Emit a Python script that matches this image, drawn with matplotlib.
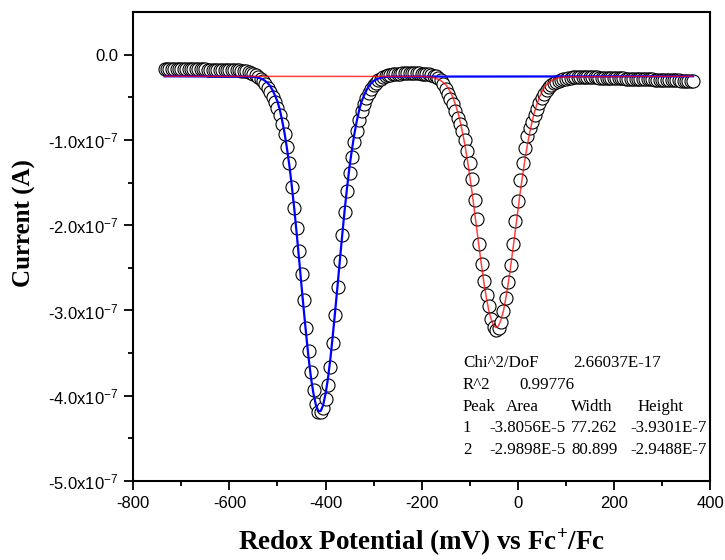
import matplotlib
matplotlib.use('Agg')
import matplotlib.pyplot as plt
from matplotlib.ticker import MultipleLocator, FixedLocator, FuncFormatter

plt.rcParams['font.family'] = 'Liberation Sans'
plt.rcParams['mathtext.fontset'] = 'custom'
plt.rcParams['mathtext.rm'] = 'Liberation Sans'
plt.rcParams['mathtext.it'] = 'Liberation Sans:italic'
plt.rcParams['mathtext.bf'] = 'Liberation Serif:bold'

# measured data, potential in mV, current in units of 1e-7 A
potential = [-735, -730, -725, -720, -715, -710, -705, -700, -695, -690,
             -685, -680, -675, -670, -665, -660, -655, -650, -645, -640,
             -635, -630, -625, -620, -615, -610, -605, -600, -595, -590,
             -585, -580, -575, -570, -565, -560, -555, -550, -545, -540,
             -535, -530, -525, -520, -515, -510, -505, -500, -495, -490,
             -485, -480, -475, -470, -465, -460, -455, -450, -445, -440,
             -435, -430, -425, -420, -415, -410, -405, -400, -395, -390,
             -385, -380, -375, -370, -365, -360, -355, -350, -345, -340,
             -335, -330, -325, -320, -315, -310, -305, -300, -295, -290,
             -285, -280, -275, -270, -265, -260, -255, -250, -245, -240,
             -235, -230, -225, -220, -215, -210, -205, -200, -195, -190,
             -185, -180, -175, -170, -165, -160, -155, -150, -145, -140,
             -135, -130, -125, -120, -115, -110, -105, -100, -95, -90,
             -85, -80, -75, -70, -65, -60, -55, -50, -45, -40,
             -35, -30, -25, -20, -15, -10, -5, 0, 5, 10,
             15, 20, 25, 30, 35, 40, 45, 50, 55, 60,
             65, 70, 75, 80, 85, 90, 95, 100, 105, 110,
             115, 120, 125, 130, 135, 140, 145, 150, 155, 160,
             165, 170, 175, 180, 185, 190, 195, 200, 205, 210,
             215, 220, 225, 230, 235, 240, 245, 250, 255, 260,
             265, 270, 275, 280, 285, 290, 295, 300, 305, 310,
             315, 320, 325, 330, 335, 340, 345, 350, 355, 360,
             365]
current = [-0.170, -0.170, -0.170, -0.170, -0.170, -0.170, -0.170, -0.170, -0.170, -0.170,
           -0.170, -0.170, -0.171, -0.171, -0.172, -0.172, -0.173, -0.174, -0.175, -0.175,
           -0.176, -0.177, -0.177, -0.178, -0.178, -0.179, -0.179, -0.180, -0.181, -0.182,
           -0.183, -0.185, -0.188, -0.192, -0.197, -0.203, -0.212, -0.224, -0.240, -0.260,
           -0.285, -0.315, -0.350, -0.390, -0.440, -0.500, -0.560, -0.630, -0.710, -0.810,
           -0.930, -1.080, -1.270, -1.550, -1.800, -2.030, -2.300, -2.570, -2.880, -3.200,
           -3.480, -3.720, -3.930, -4.100, -4.190, -4.190, -4.140, -4.040, -3.870, -3.660,
           -3.380, -3.050, -2.720, -2.420, -2.120, -1.850, -1.600, -1.390, -1.200, -1.030,
           -0.890, -0.770, -0.660, -0.580, -0.510, -0.450, -0.400, -0.360, -0.330, -0.300,
           -0.280, -0.265, -0.252, -0.243, -0.236, -0.231, -0.227, -0.224, -0.222, -0.220,
           -0.219, -0.218, -0.218, -0.218, -0.218, -0.219, -0.220, -0.222, -0.225, -0.228,
           -0.232, -0.237, -0.245, -0.255, -0.270, -0.300, -0.340, -0.400, -0.460, -0.520,
           -0.580, -0.660, -0.740, -0.810, -0.900, -1.000, -1.130, -1.270, -1.460, -1.700,
           -1.930, -2.220, -2.450, -2.660, -2.820, -2.950, -3.100, -3.190, -3.230, -3.200,
           -3.130, -3.010, -2.850, -2.670, -2.470, -2.220, -1.950, -1.720, -1.470, -1.270,
           -1.100, -0.960, -0.860, -0.790, -0.710, -0.640, -0.570, -0.510, -0.460, -0.420,
           -0.385, -0.355, -0.335, -0.318, -0.305, -0.295, -0.287, -0.280, -0.275, -0.271,
           -0.268, -0.266, -0.265, -0.265, -0.265, -0.265, -0.266, -0.266, -0.267, -0.268,
           -0.268, -0.269, -0.270, -0.271, -0.272, -0.273, -0.274, -0.275, -0.276, -0.277,
           -0.278, -0.279, -0.280, -0.281, -0.282, -0.283, -0.284, -0.285, -0.286, -0.287,
           -0.288, -0.289, -0.290, -0.291, -0.292, -0.293, -0.294, -0.295, -0.296, -0.297,
           -0.298, -0.300, -0.301, -0.302, -0.303, -0.304, -0.305, -0.306, -0.307, -0.308,
           -0.310]

# fitted peak 1 (blue)
fit1_x = [-735,
          -555, -550, -545, -540, -535, -530, -525, -520, -515, -510,
          -505, -500, -495, -490, -485, -480, -475, -470, -465, -460,
          -455, -450, -445, -440, -435, -430, -425, -420, -415, -410,
          -405, -400, -395, -390, -385, -380, -375, -370, -365, -360,
          -355, -350, -345, -340, -335, -330, -325, -320, -315, -310,
          -305, -300, -295, -290, -285, -280, -275, -270,
          365]
fit1_y = [-0.254,
          -0.258, -0.261, -0.265, -0.271, -0.280, -0.292, -0.310, -0.335, -0.370, -0.420,
          -0.480, -0.550, -0.650, -0.780, -0.930, -1.110, -1.310, -1.550, -1.810, -2.100,
          -2.400, -2.710, -3.010, -3.300, -3.570, -3.800, -3.980, -4.110, -4.180, -4.180,
          -4.110, -3.980, -3.800, -3.570, -3.300, -3.010, -2.710, -2.400, -2.100, -1.810,
          -1.550, -1.310, -1.110, -0.930, -0.780, -0.650, -0.550, -0.480, -0.420, -0.370,
          -0.335, -0.310, -0.292, -0.280, -0.271, -0.265, -0.261, -0.258,
          -0.254]

# fitted peak 2 (red)
fit2_x = [-735, -195, -185, -175,
          -165, -160, -155, -150, -145, -140, -135, -130, -125, -120,
          -115, -110, -105, -100, -95, -90, -85, -80, -75, -70,
          -65, -60, -55, -50, -45, -40, -35, -30, -25, -20,
          -15, -10, -5, 0, 5, 10, 15, 20, 25, 30,
          35, 40, 45, 50, 55, 60, 65, 70, 75,
          85, 95, 365]
fit2_y = [-0.254, -0.256, -0.260, -0.270,
          -0.290, -0.305, -0.330, -0.350, -0.390, -0.440, -0.500, -0.580, -0.670, -0.780,
          -0.910, -1.060, -1.230, -1.420, -1.620, -1.840, -2.060, -2.280, -2.490, -2.690,
          -2.860, -3.010, -3.110, -3.180, -3.200, -3.180, -3.110, -3.010, -2.860, -2.690,
          -2.490, -2.280, -2.060, -1.840, -1.620, -1.420, -1.230, -1.060, -0.910, -0.780,
          -0.670, -0.580, -0.500, -0.440, -0.390, -0.350, -0.330, -0.305, -0.290,
          -0.270, -0.260, -0.254]

fit_rows = [
    ('Chi^2/DoF', 463, 363), ('2.66037E-17', 573, 363),
    ('R^2', 463, 385), ('0.99776', 519, 385),
    ('Peak', 463, 407), ('Area', 506, 407), ('Width', 571, 407), ('Height', 638, 407),
    ('1', 463, 428), ('-3.8056E-5', 489, 428), ('77.262', 571, 428), ('-3.9301E-7', 630, 428),
    ('2', 463, 450), ('-2.9898E-5', 489, 450), ('80.899', 571, 450), ('-2.9488E-7', 630, 450),
]

W, H = 725, 560
fig = plt.figure(figsize=(W / 100, H / 100), dpi=100)
ax = fig.add_axes([133.3 / W, 1 - 481 / H, (710 - 133.3) / W, (481 - 12) / H])

ax.plot(potential, [c * 1e-7 for c in current], 'o', ms=9.4, mfc='white',
        mec='black', mew=0.8, zorder=2)
ax.plot(fit1_x, [v * 1e-7 for v in fit1_y], color='blue', lw=1.6, zorder=3)
ax.plot(fit2_x, [v * 1e-7 for v in fit2_y], color='red', lw=1.1, alpha=0.75, zorder=4)

ax.set_xlim(-800, 400)
ax.set_ylim(-5e-7, 0.5e-7)
ax.xaxis.set_major_locator(MultipleLocator(200))
ax.xaxis.set_minor_locator(MultipleLocator(100))
ax.yaxis.set_major_locator(FixedLocator([0, -1e-7, -2e-7, -3e-7, -4e-7, -5e-7]))
ax.yaxis.set_minor_locator(FixedLocator([-0.5e-7, -1.5e-7, -2.5e-7, -3.5e-7, -4.5e-7]))


def yfmt(v, pos):
    k = round(v / 1e-7)
    if k == 0:
        return '0.0'
    return '%.1fx10$^{-7}$' % k


ax.yaxis.set_major_formatter(FuncFormatter(yfmt))
ax.xaxis.set_major_formatter(FuncFormatter(lambda v, p: '%d' % v))

for s in ax.spines.values():
    s.set_linewidth(1.5)
ax.tick_params(which='both', direction='out', width=1.3, top=False, right=False,
               labelsize=12, pad=4)
ax.tick_params(which='major', length=6.5)
ax.tick_params(which='minor', length=3.8)

ax.set_xlabel(r'Redox Potential (mV) vs Fc$^{\mathbf{+}}$/Fc', family='Liberation Serif',
              fontweight='bold', fontsize=19.5)
ax.set_ylabel('Current (A)', family='Liberation Serif', fontweight='bold', fontsize=18)
ax.xaxis.set_label_coords(0.5, -0.098)
ax.yaxis.set_label_coords(-0.168, 0.55)

for txt, px, py in fit_rows:
    fig.text(px / W, 1 - py / H, txt, family='Liberation Serif', fontsize=12.2,
             ha='left', va='center')

fig.savefig('out.png', dpi=100)
